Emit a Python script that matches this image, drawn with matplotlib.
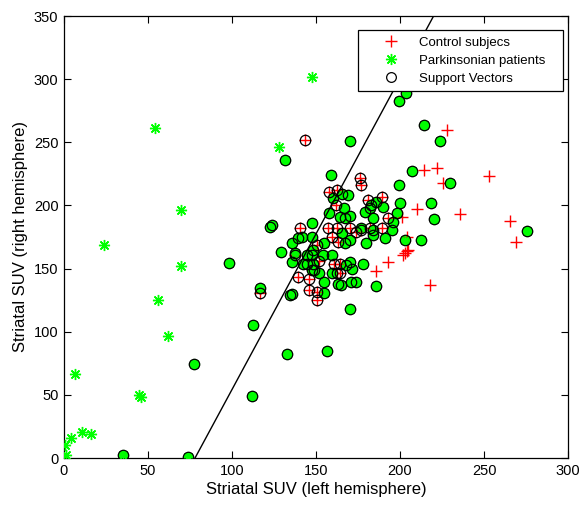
import matplotlib
matplotlib.use("Agg")
import matplotlib.pyplot as plt
from matplotlib.lines import Line2D

plt.rcParams['font.family'] = ['Liberation Sans', 'DejaVu Sans']

# Control subjects that are not support vectors
ctrl_x = [228, 214, 222, 225.6, 253, 236, 265.5, 269, 210, 218, 204, 202, 193, 186, 201, 204, 205, 203]
ctrl_y = [260, 228, 230, 218, 223, 193, 188, 171, 197, 137, 164, 161, 155, 148, 191, 175, 165, 162]

# Control subjects that are support vectors
ctrl_sv_x = [143.5, 116.7, 176, 177, 158, 162.5, 162, 189, 181, 193, 140.5, 157, 162.5, 159.5, 170,
             174, 182, 189, 163, 150.6, 137.5, 152, 161, 164, 164, 146, 139, 146, 150.6, 150.6, 177, 162.5]
ctrl_sv_y = [252, 130.6, 221.7, 216, 210.6, 212.5, 200, 207, 204, 190, 182, 182, 182, 175, 182,
             179, 182, 182, 171, 169, 160.7, 156, 154, 154, 146.5, 141.7, 143, 133, 131.4, 125, 180.5, 146.5]

# Parkinsonian patients that are not support vectors
pd_x = [147.6, 54, 128, 69.6, 23.8, 69.6, 56, 62, 6.5, 44.6, 45.8, 0.6, 1.2, 4.2, 10.7, 16]
pd_y = [301.7, 261, 246, 196, 168.6, 152, 125, 96.6, 66.5, 50, 48.3, 10, 2.4, 15.8, 20.6, 19]

# Parkinsonian patients that are support vectors
pd_sv_x = [35, 74, 77.4, 98.2, 112, 112.5, 116.7, 122.6, 131.5, 133, 156.5, 170, 170, 214, 199.4,
           203.6, 224, 207, 199.4, 230, 218.5, 220, 200, 212.5, 203, 275.6, 159, 171, 174, 186,
           129, 134.5, 136, 155, 155, 163, 165, 159.5, 152, 149, 168, 170, 171.4, 178, 142,
           136, 137.5, 136, 147.6, 144.6, 148, 144.6, 148, 154, 159.5, 147.6, 139, 141.7, 147.6,
           147.6, 124, 155, 165.5, 167, 170, 180, 177, 184, 191, 165.5, 169, 160, 186, 183,
           190, 166.7, 179, 182, 158, 164, 170, 167, 184, 198, 196, 195, 184]
pd_sv_y = [2.4, 1, 74.5, 154.4, 49, 105, 135, 183, 236, 82, 85, 118, 251, 264, 283,
           289, 251, 227, 216, 218, 202, 189, 202, 172.6, 173, 180, 224, 139, 139, 136,
           163, 129, 130, 130.6, 139, 137.6, 137, 146.5, 146.5, 149, 153, 155, 150, 154, 154,
           155, 162, 170, 160.7, 161, 165, 154, 154, 160.7, 160.7, 149, 174, 175, 175,
           186, 184.5, 170, 178, 170, 172.6, 170, 182, 176.6, 174, 209, 208, 206, 203, 200,
           199, 198, 195, 198, 194, 191, 192, 190, 190, 194, 187, 180.5, 180.5]

# Separating boundary (two end points of the line)
boundary_x = [78, 220]
boundary_y = [0, 350]

RED = '#ff0000'
GREEN = '#00ff00'

fig = plt.figure(figsize=(5.8, 5.05), dpi=100)
ax = fig.add_axes([64/580, 47/505, 504/580, 442/505])

all_ctrl_x = ctrl_x + ctrl_sv_x
all_ctrl_y = ctrl_y + ctrl_sv_y
all_pd_x = pd_x + pd_sv_x
all_pd_y = pd_y + pd_sv_y

# green fill under PD support vectors
ax.plot(pd_sv_x, pd_sv_y, linestyle='none', marker='o', markersize=6.5,
        markerfacecolor=GREEN, markeredgecolor=GREEN, zorder=2)
ax.plot(all_ctrl_x, all_ctrl_y, linestyle='none', marker='+', markersize=8.5,
        markeredgewidth=1.0, color=RED, zorder=3)
ax.plot(all_pd_x, all_pd_y, linestyle='none', marker=(8, 2, 0), markersize=8,
        markeredgewidth=1.0, color=GREEN, zorder=3)
ax.plot(ctrl_sv_x + pd_sv_x, ctrl_sv_y + pd_sv_y, linestyle='none', marker='o',
        markersize=7.5, markerfacecolor='none', markeredgecolor='black',
        markeredgewidth=0.9, zorder=4)
ax.plot(boundary_x, boundary_y, color='black', linewidth=1.0, zorder=5)

ax.set_xlim(0, 300)
ax.set_ylim(0, 350)
ax.set_xticks(range(0, 301, 50))
ax.set_yticks(range(0, 351, 50))
ax.tick_params(direction='in', top=True, right=True, length=5, width=0.8,
               labelsize=10.5, pad=4)
for s in ax.spines.values():
    s.set_linewidth(0.9)

ax.set_xlabel('Striatal SUV (left hemisphere)', fontsize=12, labelpad=3)
ax.set_ylabel('Striatal SUV (right hemisphere)', fontsize=12, labelpad=4)

handles = [
    Line2D([], [], linestyle='none', marker='+', markersize=8.5, color=RED, markeredgewidth=1.0),
    Line2D([], [], linestyle='none', marker=(8, 2, 0), markersize=8, color=GREEN, markeredgewidth=1.0),
    Line2D([], [], linestyle='none', marker='o', markersize=7, markerfacecolor='none',
           markeredgecolor='black', markeredgewidth=0.9),
]
labels = ['Control subjecs', 'Parkinsonian patients', 'Support Vectors']
x0 = (358 - 64) / 504
w = 205 / 504
leg = ax.legend(handles, labels, loc='upper right', bbox_to_anchor=(x0, 0.5, w, 0.968 - 0.5),
                mode='expand', borderaxespad=0, fancybox=False, framealpha=1,
                edgecolor='black', fontsize=9.5, handlelength=4.0, handletextpad=0.15,
                labelspacing=0.42, borderpad=0.5)
leg.get_frame().set_linewidth(0.9)
leg.set_zorder(10)

fig.savefig('out.png', dpi=100)
